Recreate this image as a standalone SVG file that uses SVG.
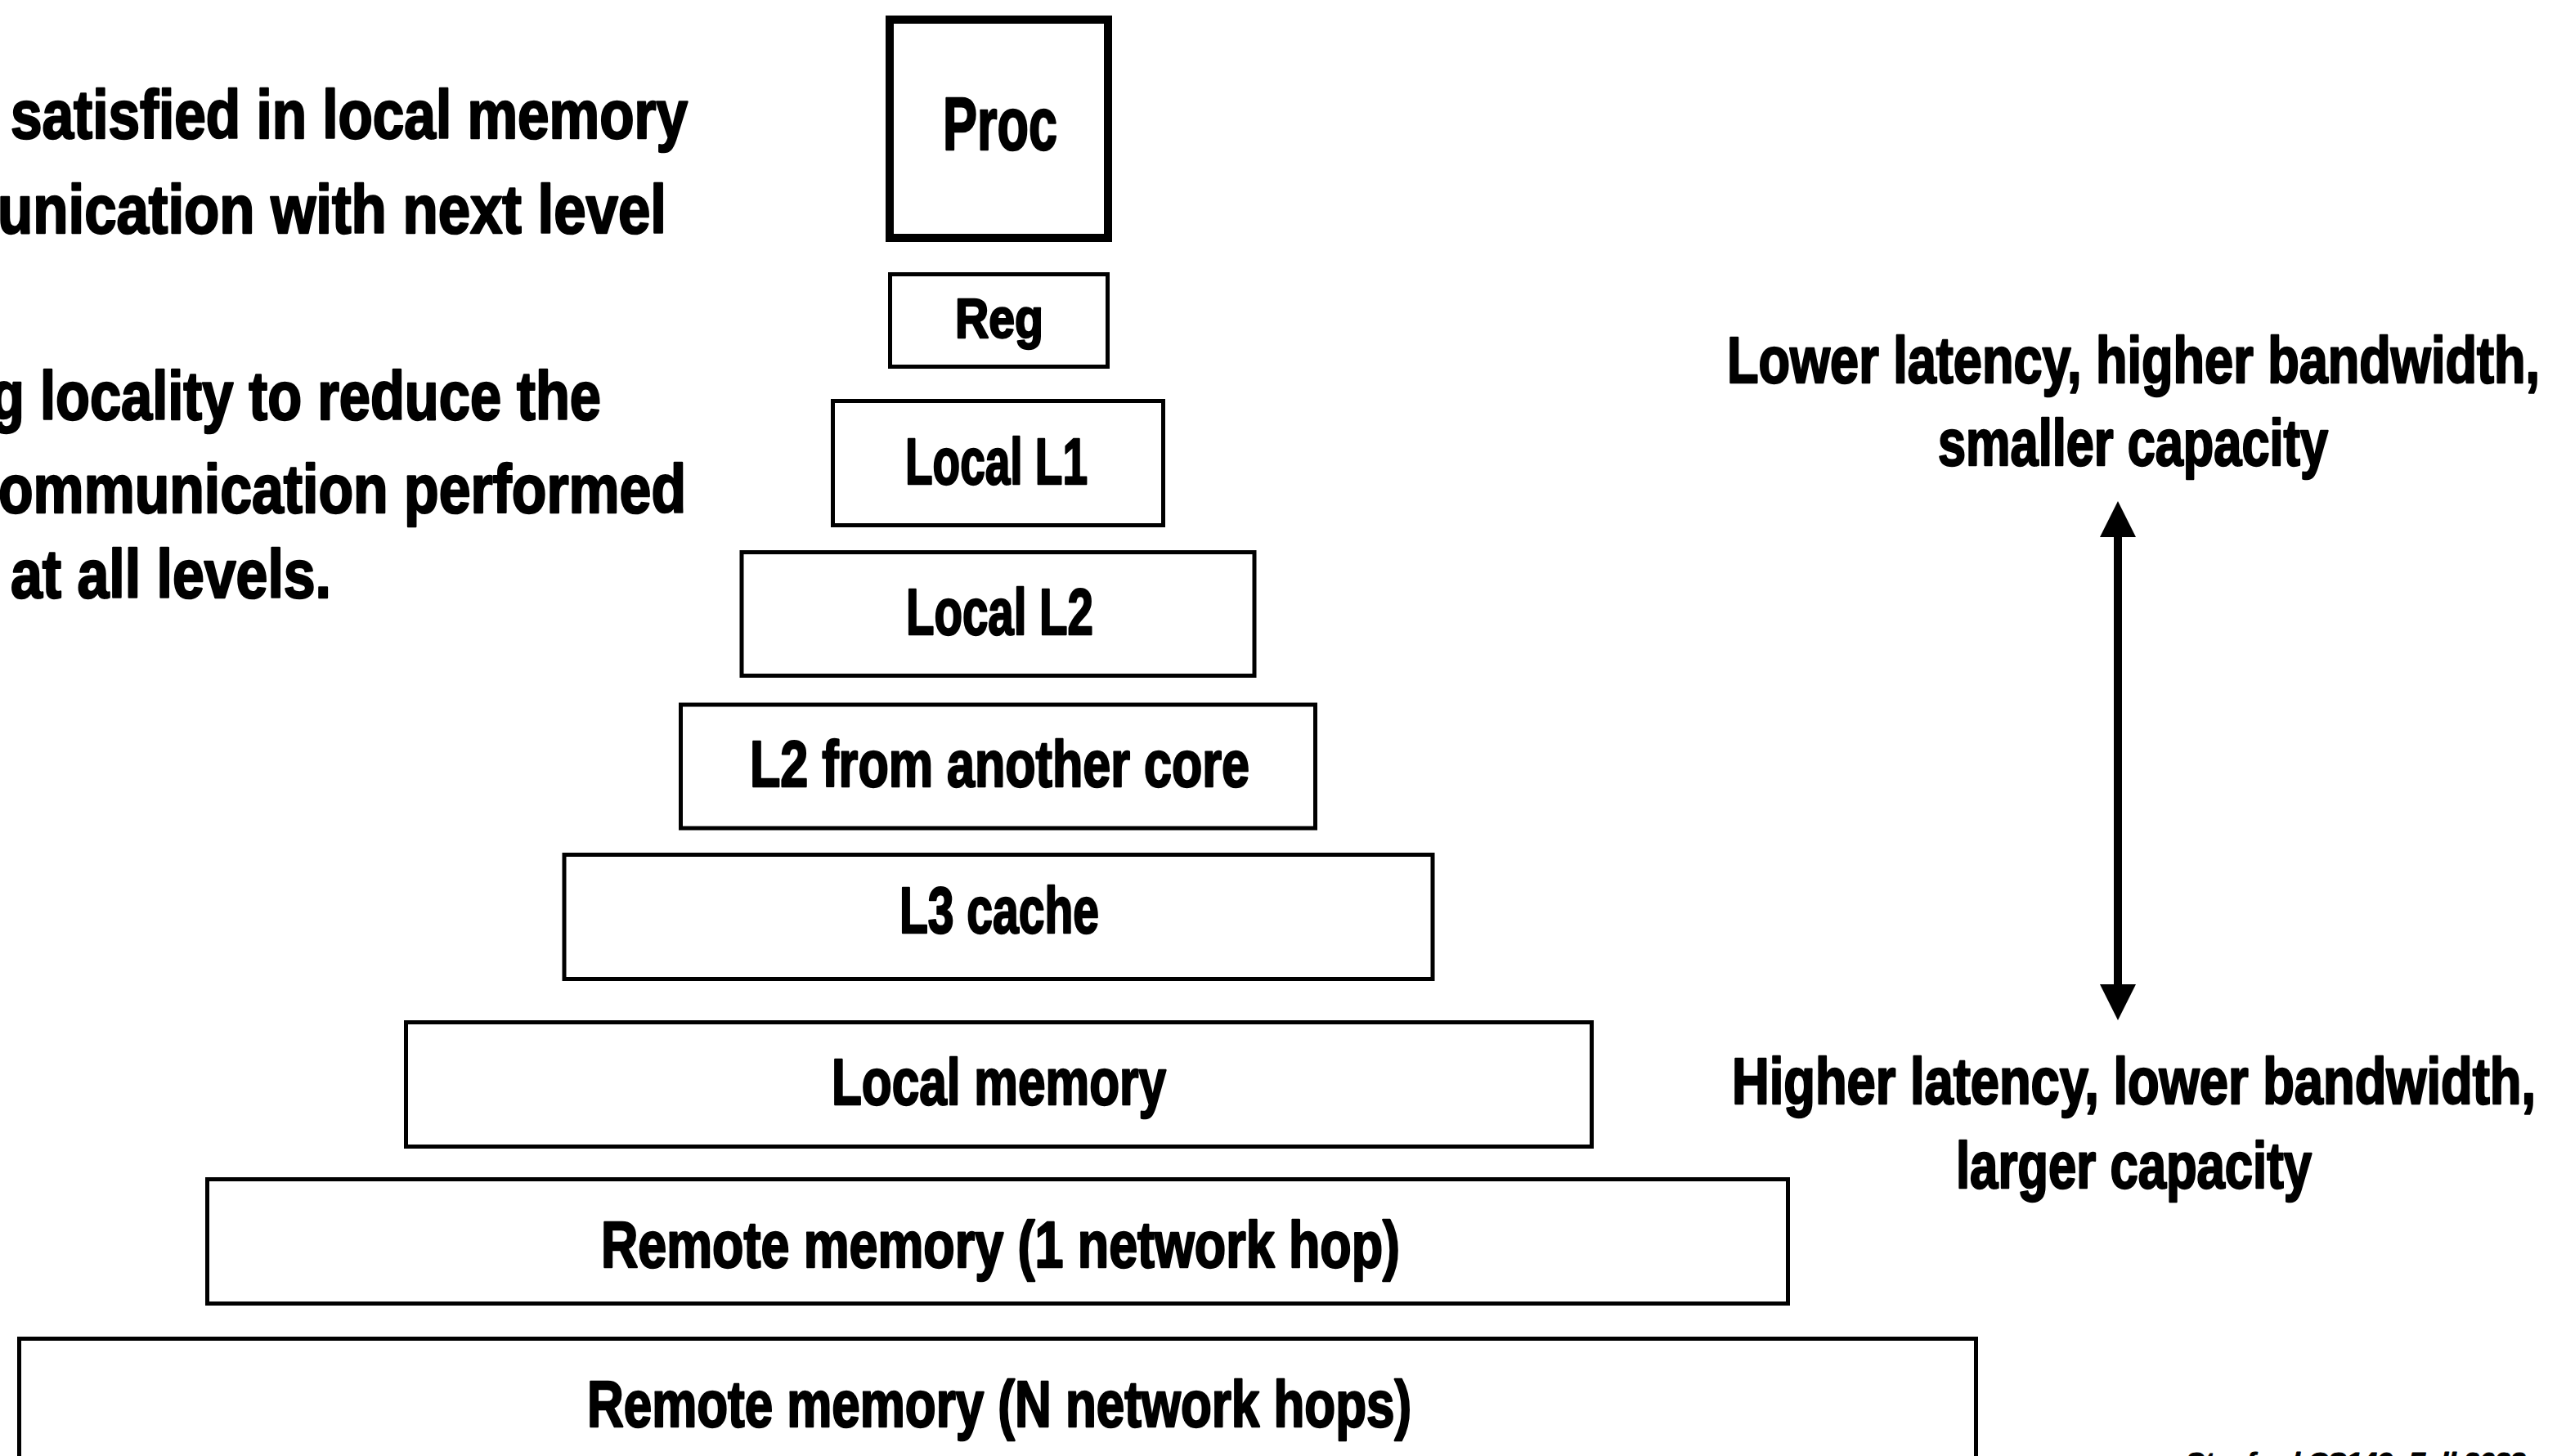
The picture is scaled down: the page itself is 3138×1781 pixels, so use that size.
<svg xmlns="http://www.w3.org/2000/svg" width="3138" height="1781" viewBox="0 0 3138 1781">
<style>
.box{fill:#fff;stroke:#000;stroke-width:5}
.proc{fill:#fff;stroke:#000;stroke-width:10}
.t{font-family:"Liberation Sans",Arial,sans-serif;font-weight:bold;fill:#000;stroke:#000;stroke-width:2.5;stroke-linejoin:round}
.lbl{font-size:80px}
.side{font-size:80px}
.note{font-size:84px}
.foot{font-size:34px;font-style:italic;stroke-width:1}
.conn{stroke:#000;stroke-width:10;fill:none}
</style>
<defs>
<marker id="head" markerUnits="userSpaceOnUse" markerWidth="44" markerHeight="44" viewBox="0 0 44 44" refX="7" refY="22" orient="auto-start-reverse">
<path d="M0,0 L44,22 L0,44 Z" fill="#000"/>
</marker>
</defs>
<rect width="3138" height="1781" fill="#fff"/>

<g id="left-text">
<text class="t note" x="13" y="169" textLength="828" lengthAdjust="spacingAndGlyphs">satisfied in local memory</text>
<text class="t note" x="-3" y="285" textLength="818" lengthAdjust="spacingAndGlyphs">unication with next level</text>
<text class="t note" x="-12" y="513" textLength="747" lengthAdjust="spacingAndGlyphs">g locality to reduce the</text>
<text class="t note" x="-2" y="627" textLength="841" lengthAdjust="spacingAndGlyphs">ommunication performed</text>
<text class="t note" x="13" y="731" textLength="392" lengthAdjust="spacingAndGlyphs">at all levels.</text>
</g>

<g id="node-proc">
<rect class="proc" x="1088" y="24" width="267" height="267"/>
<text class="t" style="font-size:90px" x="1153" y="183" textLength="140" lengthAdjust="spacingAndGlyphs">Proc</text>
</g>
<g id="node-reg">
<rect class="box" x="1088.5" y="335.5" width="266" height="113"/>
<text class="t" style="font-size:68px" x="1168" y="413" textLength="108" lengthAdjust="spacingAndGlyphs">Reg</text>
</g>
<g id="node-l1">
<rect class="box" x="1018.5" y="490.5" width="404" height="152"/>
<text class="t lbl" x="1107" y="592" textLength="223" lengthAdjust="spacingAndGlyphs">Local L1</text>
</g>
<g id="node-l2">
<rect class="box" x="907" y="675.5" width="627" height="151"/>
<text class="t lbl" x="1108" y="776" textLength="229" lengthAdjust="spacingAndGlyphs">Local L2</text>
</g>
<g id="node-l2-other">
<rect class="box" x="832.5" y="862" width="776" height="151"/>
<text class="t lbl" x="917" y="962" textLength="611" lengthAdjust="spacingAndGlyphs">L2 from another core</text>
</g>
<g id="node-l3">
<rect class="box" x="690" y="1045.5" width="1062" height="152"/>
<text class="t lbl" x="1100" y="1141" textLength="244" lengthAdjust="spacingAndGlyphs">L3 cache</text>
</g>
<g id="node-localmem">
<rect class="box" x="496.5" y="1250.5" width="1450" height="152"/>
<text class="t lbl" x="1017" y="1351" textLength="409" lengthAdjust="spacingAndGlyphs">Local memory</text>
</g>
<g id="node-remote1">
<rect class="box" x="253.5" y="1442.5" width="1933" height="152"/>
<text class="t lbl" x="735" y="1550" textLength="977" lengthAdjust="spacingAndGlyphs">Remote memory (1 network hop)</text>
</g>
<g id="node-remoteN">
<rect class="box" x="23.5" y="1637.5" width="2393" height="200"/>
<text class="t lbl" x="718" y="1745" textLength="1008" lengthAdjust="spacingAndGlyphs">Remote memory (N network hops)</text>
</g>

<g id="side-labels">
<text class="t side" x="2112" y="468" textLength="994" lengthAdjust="spacingAndGlyphs">Lower latency, higher bandwidth,</text>
<text class="t side" x="2370" y="569" textLength="477" lengthAdjust="spacingAndGlyphs">smaller capacity</text>
<text class="t side" x="2118" y="1350" textLength="983" lengthAdjust="spacingAndGlyphs">Higher latency, lower bandwidth,</text>
<text class="t side" x="2392" y="1453" textLength="435" lengthAdjust="spacingAndGlyphs">larger capacity</text>
</g>

<g id="connectors">
<line class="conn" x1="2590" y1="650" x2="2590" y2="1211" marker-start="url(#head)" marker-end="url(#head)"/>
</g>

<g id="footer">
<text class="t foot" x="2673" y="1800">Stanford CS149, Fall 2023</text>
</g>
</svg>
